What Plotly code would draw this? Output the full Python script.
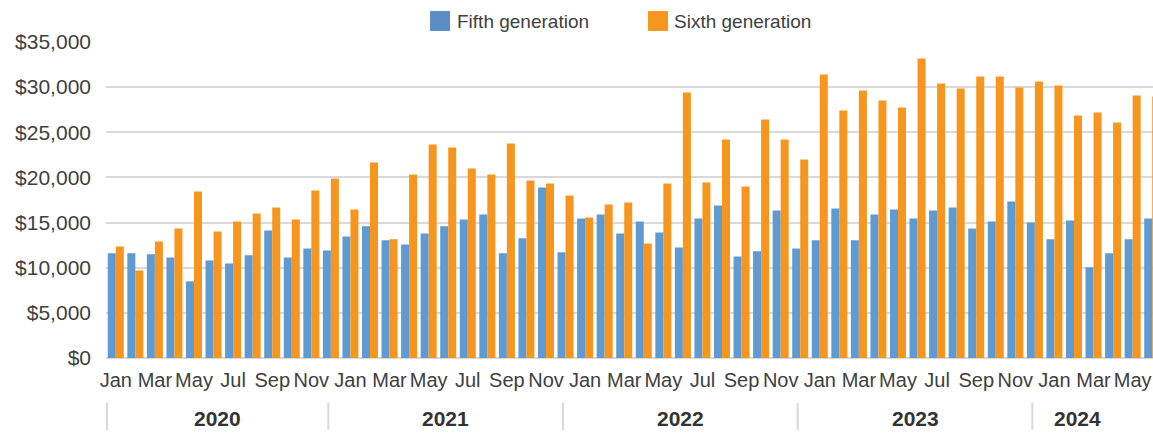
import plotly.graph_objects as go

month_names = ["Jan", "Feb", "Mar", "Apr", "May", "Jun", "Jul", "Aug", "Sep", "Oct", "Nov", "Dec"]
years = [2020, 2021, 2022, 2023, 2024]
months_in_year = [12, 12, 12, 12, 6]
series_names = ["Fifth generation", "Sixth generation"]

fifth = [11590, 11590, 11480, 11140, 8490, 10810, 10480, 11370, 14130, 11140, 12140, 11920,
         13470, 14580, 13030, 12580, 13800, 14580, 15350, 15900, 11590, 13250, 18890, 11700,
         15460, 15900, 13800, 15130, 13910, 12250, 15460, 16900, 11250, 11810, 16350, 12140,
         13030, 16570, 13030, 15900, 16460, 15460, 16350, 16680, 14350, 15130, 17340, 15020,
         13140, 15240, 10040, 11590, 13140, 15460]
sixth = [12360, 9700, 12910, 14350, 18450, 14020, 15130, 16010, 16680, 15350, 18560, 19890,
         16460, 21660, 13140, 20330, 23650, 23320, 21000, 20330, 23760, 19670, 19340, 18010,
         15570, 17010, 17230, 12690, 19340, 29410, 19450, 24210, 19000, 26420, 24210, 21990,
         31400, 27420, 29630, 28520, 27750, 33170, 30410, 29850, 31180, 31180, 29960, 30630,
         30180, 26860, 27200, 26090, 29080, 28970]

categories = []
for y, n in zip(years, months_in_year):
    for m in range(n):
        categories.append(f"{month_names[m]} {y}")
xs = list(range(len(categories)))

BLUE = "#5F9AD3"
BLUE_KEY = "#5B8CC4"
ORANGE = "#F7961E"
FONT = "Liberation Sans, Arial, sans-serif"
TXT = "#404040"
GRID = "#D9D9D9"

fig = go.Figure()
fig.add_trace(go.Bar(x=xs, y=fifth, name=series_names[0], marker=dict(color=BLUE, line=dict(width=0)),
                     showlegend=False))
fig.add_trace(go.Bar(x=xs, y=sixth, name=series_names[1], marker=dict(color=ORANGE, line=dict(width=0)),
                     showlegend=False))

tickvals = xs[::2]
ticktext = [categories[i].split()[0] for i in tickvals]

# year separators and labels
year_start = []
idx = 0
for n in months_in_year:
    year_start.append(idx)
    idx += n
x_left = -0.45
seps = [x_left] + [s - 1.13 for s in year_start[1:]]
ends = seps[1:] + [51.5]

shapes = []
annotations = []
for y, s, e in zip(years, seps, ends):
    shapes.append(dict(type="line", xref="x", yref="paper", x0=s, x1=s, y0=-0.142, y1=-0.228,
                       line=dict(color=GRID, width=2)))
    annotations.append(dict(x=(s + e) / 2, y=-0.19, xref="x", yref="paper", text=f"<b>{y}</b>",
                            showarrow=False, xanchor="center", yanchor="middle",
                            font=dict(family=FONT, size=21, color="#333333")))

# legend (swatch + label) drawn at the top
legend_keys = [(series_names[0], BLUE_KEY, 0.3095, 0.3286, 0.3333),
               (series_names[1], ORANGE, 0.5177, 0.5368, 0.5406)]
for name, col, sx0, sx1, tx in legend_keys:
    shapes.append(dict(type="rect", xref="paper", yref="paper", x0=sx0, x1=sx1, y0=1.035, y1=1.098,
                       fillcolor=col, line=dict(width=0)))
    annotations.append(dict(x=tx, y=1.066, xref="paper", yref="paper", text=name, showarrow=False,
                            xanchor="left", yanchor="middle",
                            font=dict(family=FONT, size=19, color=TXT)))

fig.update_layout(
    width=1153, height=435,
    margin=dict(l=106, r=0, t=42, b=77, autoexpand=False),
    paper_bgcolor="white", plot_bgcolor="white",
    barmode="group", bargap=0.18, bargroupgap=0,
    font=dict(family=FONT, size=20, color=TXT),
    showlegend=False,
    shapes=shapes, annotations=annotations,
)
fig.update_xaxes(range=[-0.5, 53.04], tickvals=tickvals, ticktext=ticktext, showgrid=False,
                 ticks="", showline=False, zeroline=False, ticklabelstandoff=8, tickangle=0,
                 automargin=False, tickfont=dict(family=FONT, size=20, color=TXT))
fig.update_yaxes(range=[0, 35000], dtick=5000, tickprefix="$", tickformat=",", showgrid=True,
                 gridcolor=GRID, gridwidth=2, zeroline=True, zerolinecolor=GRID, zerolinewidth=2,
                 showline=False, ticks="", ticklabelstandoff=14, automargin=False,
                 tickfont=dict(family=FONT, size=21, color=TXT))

fig.write_html("out.html", config={"displayModeBar": False},
               post_script="document.body.style.margin='0';document.body.style.overflow='hidden';")
